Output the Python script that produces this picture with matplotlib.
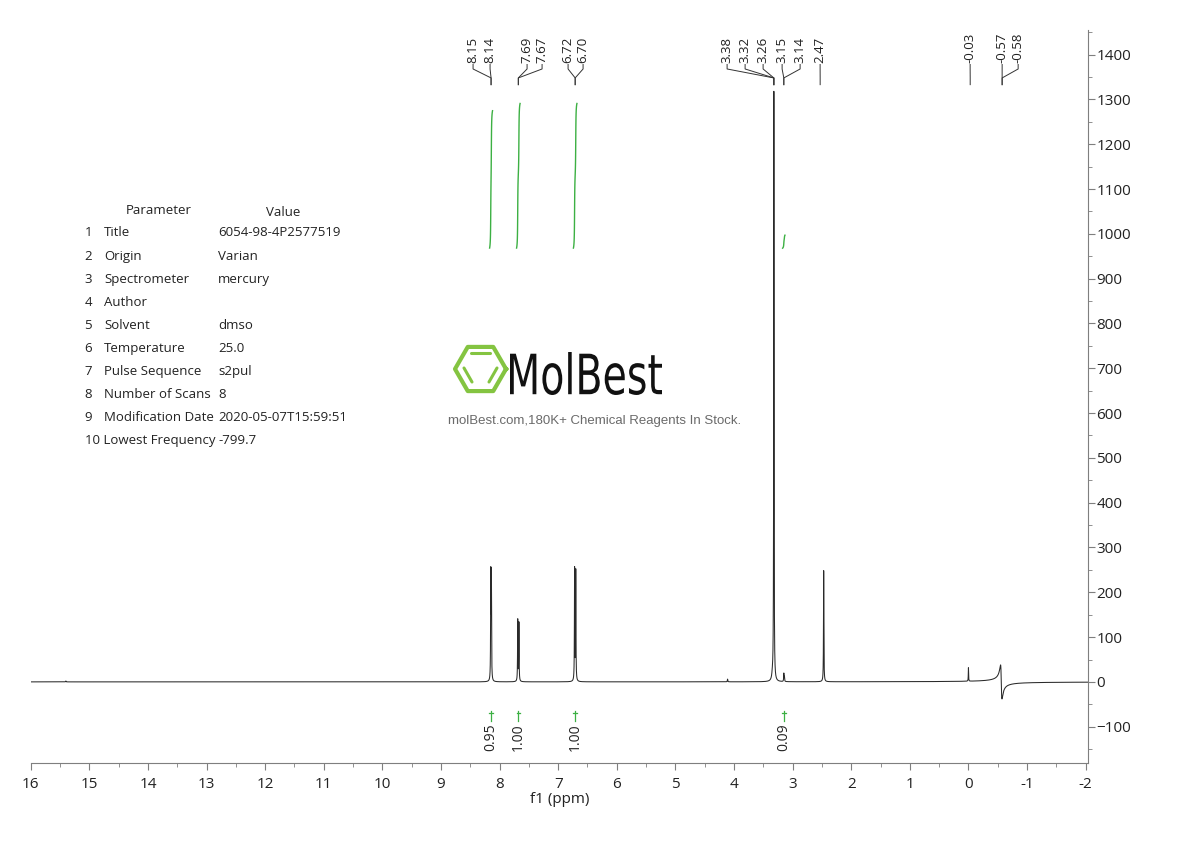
import numpy as np
import matplotlib.pyplot as plt
from matplotlib.lines import Line2D
from matplotlib.textpath import TextPath
from matplotlib.patches import PathPatch
from matplotlib.font_manager import FontProperties
from matplotlib.transforms import Affine2D
from matplotlib.ticker import MultipleLocator

plt.rcParams['font.family'] = ['Open Sans', 'DejaVu Sans']

W, H = 1190, 841

# peak list (ppm, height, half width)
peak_ppm = [15.40, 8.150, 8.140, 7.690, 7.670, 6.720, 6.700, 4.110, 3.345, 3.320, 3.150, 3.140, 2.470, 0.000]
peak_height = [2, 232, 230, 137, 130, 250, 245, 6, 10, 1316, 18, 10, 248, 30]
peak_width = [0.004, 0.0035, 0.0035, 0.0035, 0.0035, 0.0035, 0.0035, 0.004, 0.012, 0.0035, 0.0035, 0.0035, 0.0035, 0.003]

# phase-distorted signal near -0.57 ppm
disp_ppm = -0.56
disp_amp = 76
disp_width = 0.012

# integrals
int_lo = [8.12, 7.65, 6.68, 3.13]
int_hi = [8.17, 7.71, 6.74, 3.17]
int_value = [0.95, 1.00, 1.00, 0.09]
int_labels = ['0.95', '1.00', '1.00', '0.09']

# peak picking labels: (text, peak ppm it points to)
pick_labels = ['8.15', '8.14', '7.69', '7.67', '6.72', '6.70',
               '3.38', '3.32', '3.26', '3.15', '3.14', '2.47',
               '-0.03', '-0.57', '-0.58']
pick_target = [8.145, 8.145, 7.68, 7.68, 6.71, 6.71,
               3.32, 3.32, 3.32, 3.15, 3.15, 2.53,
               -0.03, -0.575, -0.575]
pick_px = [473, 490, 527, 542, 568, 583, 727, 745, 763, 782, 800, 820, 970, 1002, 1018]

# parameter table
param_names = ['Title', 'Origin', 'Spectrometer', 'Author', 'Solvent', 'Temperature',
               'Pulse Sequence', 'Number of Scans', 'Modification Date', 'Lowest Frequency']
param_values = ['6054-98-4P2577519', 'Varian', 'mercury', '', 'dmso', '25.0',
                's2pul', '8', '2020-05-07T15:59:51', '-799.7']

# build spectrum
x = np.linspace(16, -2.04, 36081)
y = np.zeros_like(x)
for p, h, w in zip(peak_ppm, peak_height, peak_width):
    y += h * w**2 / ((x - p)**2 + w**2)
y += disp_amp * disp_width * (x - disp_ppm) / ((x - disp_ppm)**2 + disp_width**2)

fig = plt.figure(figsize=(W / 100, H / 100), dpi=100)
ax = fig.add_axes([30.7 / W, (H - 763) / H, (1088 - 30.7) / W, (763 - 30) / H])

ax.plot(x, y, color='#2a2a2a', lw=0.75)

# integral curves
int_base = 968
int_scale = 323
green = '#3cb043'
for lo, hi, v, lab in zip(int_lo, int_hi, int_value, int_labels):
    m = (x >= lo) & (x <= hi)
    seg = y[m]
    cum = np.cumsum(seg)
    cum = cum / cum[-1] * v * int_scale + int_base
    ax.plot(x[m], cum, color=green, lw=1.0)
    xc = (lo + hi) / 2
    ax.plot([xc, xc], [-66, -88], color=green, lw=0.9)
    ax.plot([xc - 0.03, xc + 0.03], [-70, -70], color=green, lw=0.9)
    ax.text(xc, -93, lab, rotation=90, ha='center', va='top', fontsize=10, color='#222222')

# peak labels with connectors
y0, y1, y2, y3 = 1378, 1368, 1348, 1333
for lab, tgt, px in zip(pick_labels, pick_target, pick_px):
    lx = 16 - (px - 30.7) / 58.6
    ax.text(lx, y0 + 4, lab, rotation=90, ha='center', va='bottom', fontsize=9.5, color='#222222')
    ax.plot([lx, lx, tgt, tgt], [y0, y1, y2, y3], color='#333333', lw=0.7)

ax.set_xlim(16, -2.04)
ax.set_ylim(-181, 1455)
ax.xaxis.set_major_locator(MultipleLocator(1))
ax.xaxis.set_minor_locator(MultipleLocator(0.5))
ax.yaxis.set_major_locator(MultipleLocator(100))
ax.yaxis.set_minor_locator(MultipleLocator(50))
ax.yaxis.tick_right()
for s in ['left', 'top']:
    ax.spines[s].set_visible(False)
for s in ['right', 'bottom']:
    ax.spines[s].set_color('#7f7f7f')
ax.tick_params(which='major', length=5, color='#7f7f7f', labelsize=11, labelcolor='#222222')
ax.tick_params(which='minor', length=3, color='#7f7f7f')
ax.tick_params(axis='y', which='major', pad=1)
ax.tick_params(axis='x', which='major', pad=5)
ax.set_yticks(np.arange(-100, 1401, 100))
ax.set_xticks(np.arange(16, -2.5, -1))
ax.set_xticklabels([f'{int(v)}' for v in np.arange(16, -2.5, -1)])
ax.set_xlabel('f1 (ppm)', fontsize=11, color='#222222', labelpad=0)


def fx(px):
    return px / W


def fy(py):
    return 1 - py / H


# parameter table
tfs = 9.5
fig.text(fx(159), fy(210), 'Parameter', ha='center', va='center', fontsize=tfs, color='#222222')
fig.text(fx(283), fy(213), 'Value', ha='center', va='center', fontsize=tfs, color='#222222')
for i, (n, v) in enumerate(zip(param_names, param_values)):
    yy = 233 + i * 23.1
    if i < 9:
        fig.text(fx(92), fy(yy), str(i + 1), ha='right', va='center', fontsize=tfs, color='#222222')
        fig.text(fx(104), fy(yy), n, ha='left', va='center', fontsize=tfs, color='#222222')
    else:
        fig.text(fx(85), fy(yy), f'{i + 1} {n}', ha='left', va='center', fontsize=tfs, color='#222222')
    fig.text(fx(218), fy(yy), v, ha='left', va='center', fontsize=tfs, color='#222222')

# watermark logo
lime = '#84c441'
cx, cy, r = 480.5, H - 369, 25.5
ang = np.deg2rad(np.arange(0, 361, 60))
fig.add_artist(Line2D(cx + r * np.cos(ang), cy + r * np.sin(ang), transform=None,
                      color=lime, lw=3.0, solid_joinstyle='round'))
for (xa, ya), (xb, yb) in [((471, 352.5), (490, 352.5)), ((464, 368), (472, 382)), ((497, 368), (489, 382))]:
    fig.add_artist(Line2D([xa, xb], [H - ya, H - yb], transform=None, color=lime, lw=2.2,
                          solid_capstyle='round'))

fp = FontProperties(family='DejaVu Sans', weight='normal')
tp = TextPath((0, 0), 'MolBest', size=1, prop=fp)
ext = tp.get_extents()
tr = Affine2D().translate(-ext.x0, -ext.y0).scale(152 / ext.width, 43 / ext.height).translate(510, H - 395)
fig.add_artist(PathPatch(tp, transform=tr, facecolor='#111111', edgecolor='none'))
fig.text(fx(448), fy(421), 'molBest.com,180K+ Chemical Reagents In Stock.', ha='left', va='center',
         fontsize=9.5, color='#6a6a6a', family='Liberation Sans')

fig.savefig('out.png', dpi=100)
